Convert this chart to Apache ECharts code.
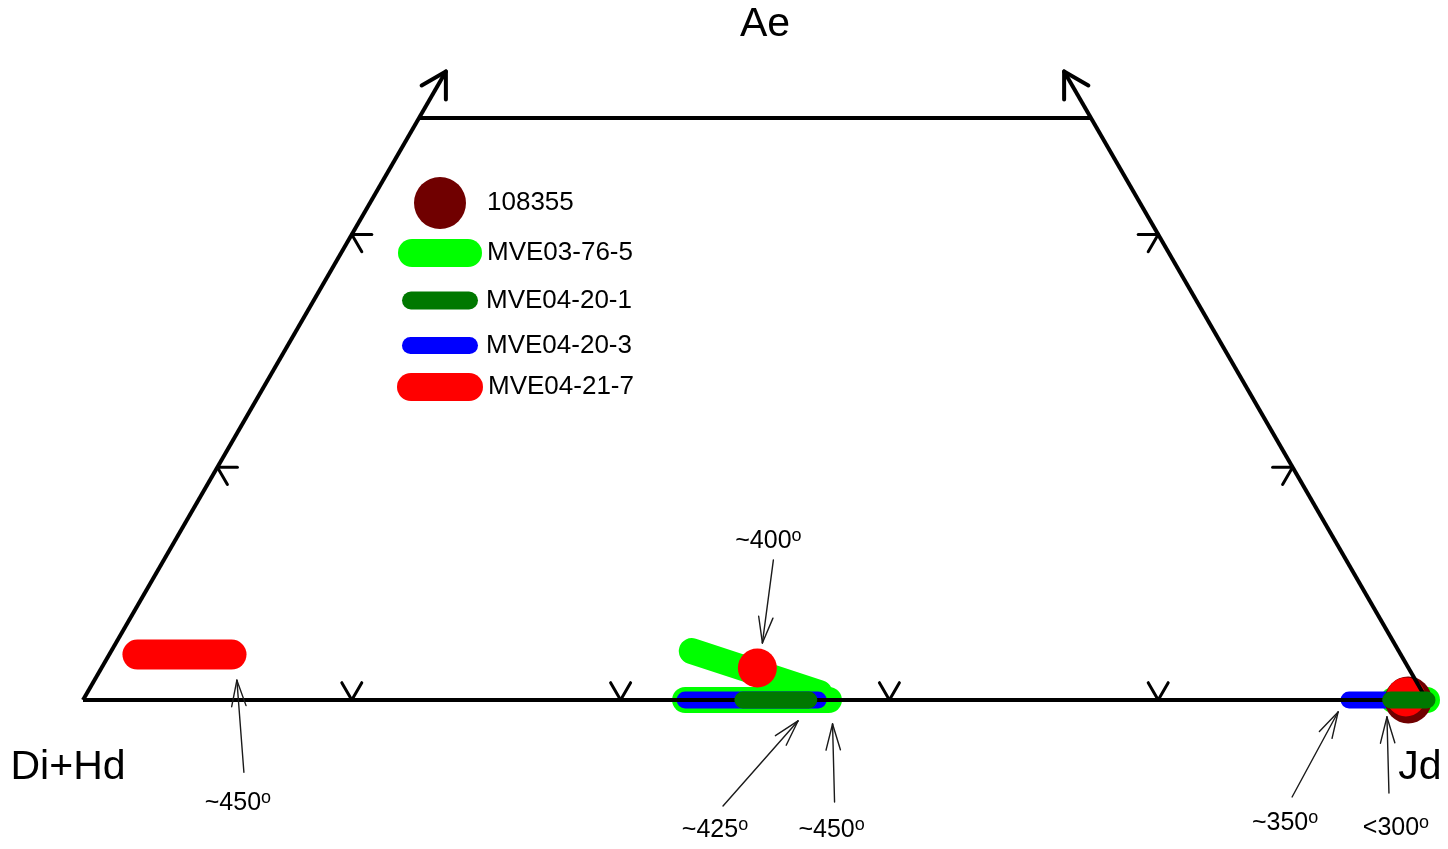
<!DOCTYPE html>
<html><head><meta charset="utf-8">
<style>html,body{margin:0;padding:0;background:#fff}#c{width:1448px;height:849px}</style>
<script src="https://cdn.jsdelivr.net/npm/echarts@6/dist/echarts.min.js"></script>
</head><body><div id="c"></div>
<script>
// ---------- DATA (ternary: [Jd, Ae] fractions; Di+Hd = 1 - Jd - Ae) ----------
const cornerLabels = ['Ae', 'Di+Hd', 'Jd'];
const seriesNames = ['108355', 'MVE03-76-5', 'MVE04-20-1', 'MVE04-20-3', 'MVE04-21-7'];
const bottomTicks = [0.2, 0.4, 0.6, 0.8];   // Jd
const sideTicks = [0.2, 0.4];               // Ae
const aeMaxShown = 0.5;                     // truncated triangle top
const aeArrow = 0.54;
// bars: [Jd1, Ae1, Jd2, Ae2]
const mve03_76_5 = [[0.432, 0.042, 0.545, 0.006], [0.448, 0, 0.555, 0], [0.975, 0, 1.0, 0]];
const mve04_20_1 = [[0.491, 0, 0.540, 0], [0.973, 0, 1.0, 0]];
const mve04_20_3 = [[0.448, 0, 0.547, 0], [0.942, 0, 0.99, 0]];
const mve04_21_7Bars = [[0.021, 0.039, 0.091, 0.039]];
const mve04_21_7Points = [[0.488, 0.0275], [0.983, 0.0026]];
const s108355Points = [[0.986, 0]];
// temperature annotations
const annLabels = ['~450', '~400', '~425', '~450', '~350', '<300'];
const annTips = [[0.106, 0.017], [0.481, 0.049], [0.541, -0.018], [0.568, -0.0206], [0.939, -0.0103], [0.9775, -0.0146]];

// ---------- LAYOUT ----------
const FONT = "'Liberation Sans', Arial, Helvetica, sans-serif";
const annTailOff = [[7, 92], [11, -83], [-75, 85], [2, 78], [-46, 85], [2, 76]];
const annTextOff = [[1, 123], [6, -102], [-83, 109], [-1, 106], [-53, 111], [9, 111]];

function tp(jd, ae) { return [jd + ae / 2, ae]; }
function seg(b) { return tp(b[0], b[1]).concat(tp(b[2], b[3])); }

function barSeries(name, bars, color, width, z) {
  return {
    type: 'custom', name: name, z: z, coordinateSystem: 'cartesian2d',
    itemStyle: { color: color }, data: bars.map(seg),
    encode: { x: [0, 2], y: [1, 3] },
    renderItem: function (params, api) {
      const a = api.coord([api.value(0), api.value(1)]);
      const b = api.coord([api.value(2), api.value(3)]);
      return { type: 'line', shape: { x1: a[0], y1: a[1], x2: b[0], y2: b[1] },
        style: { stroke: color, lineWidth: width, lineCap: 'round' } };
    }
  };
}

const frameEdges = [
  [0, 0, 1, 0, 0],
  [0, 0, 0, aeArrow, 1],
  [1, 0, 1 - aeArrow, aeArrow, 1],
  [0, aeMaxShown, 1 - aeMaxShown, aeMaxShown, 0]
];
const frameData = frameEdges.map(e => seg(e).concat([e[4]]));

const tickData = [];
bottomTicks.forEach(t => tickData.push(tp(t, 0).concat([60, 120])));
sideTicks.forEach(t => tickData.push(tp(0, t).concat([0, -60])));
sideTicks.forEach(t => tickData.push(tp(1 - t, t).concat([180, 240])));

const annData = annTips.map((p, i) => tp(p[0], p[1]).concat([i]));

function capsule(w, h) {
  const r = h / 2;
  return 'path://M' + r + ',0H' + (w - r) + 'A' + r + ',' + r + ' 0 0 1 ' + (w - r) + ',' + h +
    'H' + r + 'A' + r + ',' + r + ' 0 0 1 ' + r + ',0Z';
}
function legendFor(name, icon, left, top, w, h, pad) {
  return {
    data: [{ name: name, icon: icon }], left: left, top: top, itemWidth: w, itemHeight: h,
    padding: 0, orient: 'vertical', selectedMode: true,
    textStyle: { fontSize: 26, fontFamily: FONT, color: '#000', padding: [0, 0, 0, pad] }
  };
}

const chart = echarts.init(document.getElementById('c'), null, { renderer: 'canvas' });
const option = {
  backgroundColor: '#fff',
  animation: false,
  grid: { left: 0, right: 0, top: 0, bottom: 0 },
  xAxis: { type: 'value', min: -83 / 1344, max: 1365 / 1344, show: false },
  yAxis: { type: 'value', min: -149 / 1164, max: 700 / 1164, show: false },
  legend: [
    legendFor(seriesNames[0], 'circle', 414, 177, 52, 52, 16),
    legendFor(seriesNames[1], capsule(84, 28), 398, 239, 84, 28, 0),
    legendFor(seriesNames[2], capsule(76, 18), 402, 287.5, 76, 18, 3),
    legendFor(seriesNames[3], capsule(76, 17), 402, 332.5, 76, 17, 3),
    legendFor(seriesNames[4], capsule(86, 28), 397, 373, 86, 28, 0)
  ],
  graphic: [
    { type: 'text', x: 765, y: 25, style: { text: cornerLabels[0], font: '41px ' + FONT, fill: '#000', align: 'center', verticalAlign: 'middle' } },
    { type: 'text', x: 68, y: 768, style: { text: cornerLabels[1], font: '41px ' + FONT, fill: '#000', align: 'center', verticalAlign: 'middle' } },
    { type: 'text', x: 1420, y: 768, style: { text: cornerLabels[2], font: '41px ' + FONT, fill: '#000', align: 'center', verticalAlign: 'middle' } }
  ],
  series: [
    barSeries(seriesNames[1], mve03_76_5, '#00ff00', 26, 1),
    barSeries(seriesNames[3], mve04_20_3, '#0000ff', 17, 2),
    {
      type: 'scatter', name: seriesNames[0], z: 3, symbol: 'circle', symbolSize: 47,
      itemStyle: { color: '#700000', opacity: 1 }, data: s108355Points.map(p => tp(p[0], p[1]))
    },
    barSeries(seriesNames[4], mve04_21_7Bars, '#ff0000', 30, 4),
    {
      type: 'scatter', name: seriesNames[4], z: 4, symbol: 'circle', symbolSize: 39,
      itemStyle: { color: '#ff0000', opacity: 1 }, data: mve04_21_7Points.map(p => tp(p[0], p[1]))
    },
    {
      type: 'custom', name: 'frame', z: 5, coordinateSystem: 'cartesian2d', silent: true,
      data: frameData, encode: { x: [0, 2], y: [1, 3] },
      renderItem: function (params, api) {
        const a = api.coord([api.value(0), api.value(1)]);
        const b = api.coord([api.value(2), api.value(3)]);
        const ch = [{ type: 'line', shape: { x1: a[0], y1: a[1], x2: b[0], y2: b[1] },
          style: { stroke: '#000', lineWidth: 4, lineCap: 'butt' } }];
        if (api.value(4)) {
          const ang = Math.atan2(a[1] - b[1], a[0] - b[0]);
          [-Math.PI / 6, Math.PI / 6].forEach(d => ch.push({ type: 'line',
            shape: { x1: b[0], y1: b[1], x2: b[0] + 28 * Math.cos(ang + d), y2: b[1] + 28 * Math.sin(ang + d) },
            style: { stroke: '#000', lineWidth: 4, lineCap: 'round' } }));
        }
        return { type: 'group', children: ch };
      }
    },
    {
      type: 'custom', name: 'ticks', z: 5, coordinateSystem: 'cartesian2d', silent: true,
      data: tickData, encode: { x: 0, y: 1 },
      renderItem: function (params, api) {
        const p = api.coord([api.value(0), api.value(1)]);
        const ch = [2, 3].map(k => {
          const t = api.value(k) * Math.PI / 180;
          return { type: 'line', shape: { x1: p[0], y1: p[1], x2: p[0] + 20 * Math.cos(t), y2: p[1] - 20 * Math.sin(t) },
            style: { stroke: '#000', lineWidth: 3, lineCap: 'round' } };
        });
        return { type: 'group', children: ch };
      }
    },
    barSeries(seriesNames[2], mve04_20_1, '#007800', 17, 6),
    {
      type: 'custom', name: 'annotations', z: 7, coordinateSystem: 'cartesian2d', silent: true,
      data: annData, encode: { x: 0, y: 1 },
      renderItem: function (params, api) {
        const i = api.value(2);
        const tip = api.coord([api.value(0), api.value(1)]);
        const tail = [tip[0] + annTailOff[i][0], tip[1] + annTailOff[i][1]];
        const txt = [tip[0] + annTextOff[i][0], tip[1] + annTextOff[i][1]];
        const ang = Math.atan2(tail[1] - tip[1], tail[0] - tip[0]);
        const st = { stroke: '#1a1a1a', lineWidth: 1.4, lineCap: 'round' };
        const ch = [{ type: 'line', shape: { x1: tail[0], y1: tail[1], x2: tip[0], y2: tip[1] }, style: st }];
        [-0.27, 0.27].forEach(d => ch.push({ type: 'line',
          shape: { x1: tip[0], y1: tip[1], x2: tip[0] + 27 * Math.cos(ang + d), y2: tip[1] + 27 * Math.sin(ang + d) }, style: st }));
        ch.push({ type: 'text', x: txt[0], y: txt[1], style: {
          text: '{a|' + annLabels[i] + '}{s|o}', align: 'center', verticalAlign: 'middle', fill: '#000',
          rich: {
            a: { fontSize: 25, fontFamily: FONT, fill: '#000', lineHeight: 28 },
            s: { fontSize: 18, fontFamily: FONT, fill: '#000', lineHeight: 28, verticalAlign: 'top' }
          } } });
        return { type: 'group', children: ch };
      }
    }
  ]
};
chart.setOption(option);
</script></body></html>
